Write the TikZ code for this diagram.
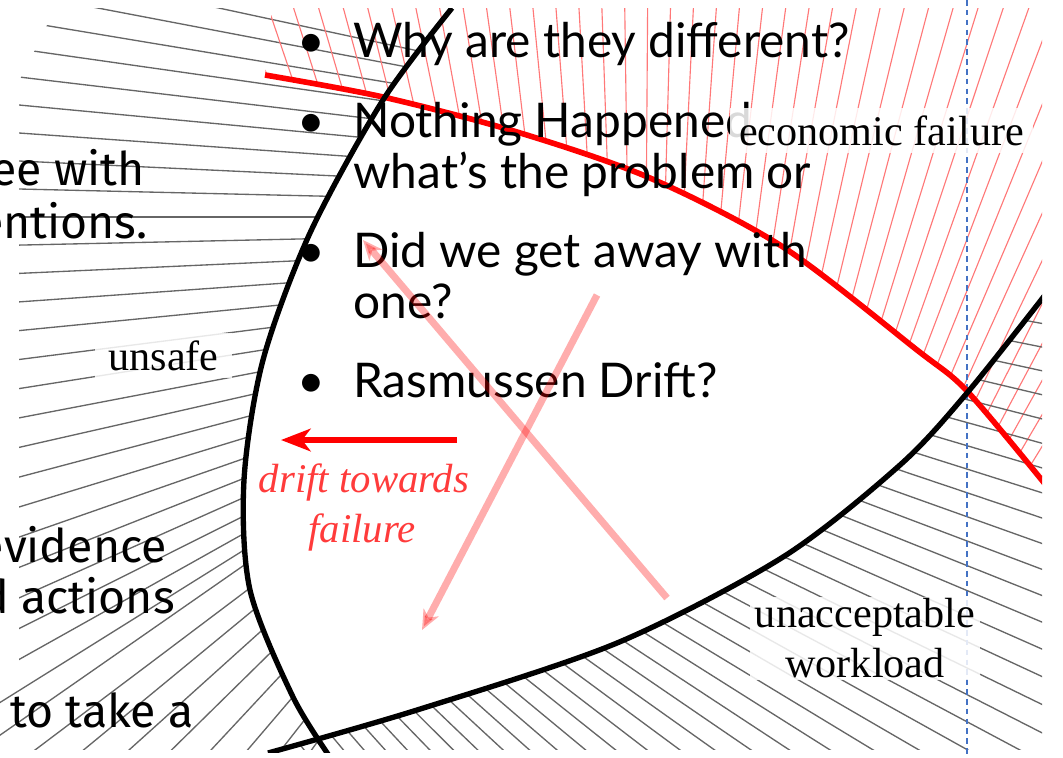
\documentclass[tikz,border=0pt]{standalone}
\usepackage{fontspec}
\setmainfont{Liberation Serif}
\newfontfamily\slidefont{Lato}
\newfontfamily\cropfont{Fira Sans}
\usetikzlibrary{arrows.meta}
\definecolor{HatchGray}{HTML}{666666}
\definecolor{HatchRed}{HTML}{FF7878}
\definecolor{DriftRed}{HTML}{FF3B3B}
\definecolor{GuideBlue}{HTML}{4472C4}

% boundary curves (pixel units, y down)
\def\unsafeedge{-- plot[smooth] coordinates {(452,8) (383,100) (310,233) (263,360) (244,480) (250,590) (293,697) (332,760)}}
\def\workedge{-- plot[smooth] coordinates {(268,753) (417,710) (617,643) (783,557) (900,465) (967,393) (1045,295)}}
\def\econedge{-- plot[smooth] coordinates {(265,75) (383,97) (517,132) (650,178) (783,247) (917,350) (967,391) (1045,484)}}

\begin{document}
\begin{tikzpicture}[x=0.025cm, y=-0.025cm,
  hatch/.style={HatchGray, line width=0.95pt},
  rhatch/.style={HatchRed, line width=0.8pt},
  bound/.style={line width=3.8pt},
  bul/.style={anchor=base, font=\slidefont\fontsize{34}{40}\selectfont, inner sep=0pt},
  slide/.style={anchor=base west, font=\slidefont\fontsize{34}{40}\selectfont, inner sep=0pt},
  crop/.style={font=\cropfont\fontsize{33}{39}\selectfont, inner sep=0pt},
  lbl/.style={fill=white, fill opacity=0.85, text opacity=1, inner sep=0pt, font=\fontsize{30}{35.6}\selectfont, align=center},
  drift/.style={anchor=base, text=DriftRed, font=\itshape\fontsize{29}{35.6}\selectfont, inner sep=0pt},
  xarr/.style={-{Stealth[length=14pt,width=12pt,inset=4pt]}, red, line width=5pt, opacity=0.32}
]
\useasboundingbox (0,0) rectangle (1063,757);

% hatching
\begin{scope}
  \clip (0,8) rectangle (1042,749);
  % unsafe side
  \begin{scope}
    \clip (0,760) -- (0,690) -- (19,690) -- (19,100) -- (21,77) -- (35,50) -- (48,23) -- (55,8) -- (452,8) \unsafeedge -- cycle;
    \foreach \j in {-9,...,17}{
      \pgfmathsetmacro\yy{217+28*\j+0.1*\j*\j*(\j>0)}
      \pgfmathsetmacro\aa{\j<0 ? -1.35*\j : -1.2*\j-0.05*\j*\j}
      \draw[hatch] ({19-60*cos(\aa)},{\yy-60*sin(\aa)}) -- ({19+740*cos(\aa)},{\yy+740*sin(\aa)});
    }
    \foreach \k in {0,...,8}{
      \pgfmathsetmacro\xx{35+50*\k-1.5*\k*\k}
      \pgfmathsetmacro\aa{-37-2.5*\k}
      \draw[hatch] ({\xx-100*cos(\aa)},{750-100*sin(\aa)}) -- ({\xx+600*cos(\aa)},{750+600*sin(\aa)});
    }
  \end{scope}
  % economic side
  \begin{scope}
    \clip (272,8) -- (265,75) \econedge -- (1045,8) -- cycle;
    \foreach \n in {0,...,47}{
      \pgfmathsetmacro\aa{-110+1.2*\n}
      \draw[rhatch] (640,1100) -- ({640+1300*cos(\aa)},{1100+1300*sin(\aa)});
    }
  \end{scope}
  % workload side
  \begin{scope}
    \clip (268,753) \workedge -- (1045,760) -- cycle;
    \foreach \n in {0,...,49}{
      \pgfmathsetmacro\aa{6+1.05*\n}
      \draw[hatch] (-200,100) -- ({-200+1700*cos(\aa)},{100+1700*sin(\aa)});
    }
  \end{scope}
\end{scope}

% guide line
\coordinate (gtop) at (967,0);
\coordinate (gbot) at (967,757);
\draw[GuideBlue, line width=1.1pt, dash pattern=on 4pt off 3pt] (gtop) -- (gbot);

% boundaries
\begin{scope}
  \clip (0,8) rectangle (1042,752);
  \draw[red, line width=4pt] (265,75) \econedge;
  \draw[bound] (452,8) \unsafeedge;
  \draw[bound] (268,753) \workedge;
\end{scope}

% cropped slide text on the left
\node[crop, anchor=base east] (t1) at (145,185) {ee with};
\node[crop, anchor=base east] (t2) at (148,238) {entions.};
\node[crop, anchor=base east] (t3) at (167,562) {evidence};
\node[crop, anchor=base east] (t4) at (175,613) {d actions};
\node[crop, anchor=base west] (t5) at (10,727) {to take a};

% bullets
\node[bul] (b1) at (311,57) {\textbullet};
\node[slide] (l1) at (353,57) {Why are they different?};
\node[bul] (b2) at (311,137) {\textbullet};
\node[slide] (l2) at (353,137) {Nothing Happened};
\node[slide] (l2b) at (353,188) {what’s the problem or};
\node[bul] (b3) at (311,267) {\textbullet};
\node[slide] (l3) at (353,267) {Did we get away with};
\node[slide] (l3b) at (353,318) {one?};
\node[bul] (b4) at (311,397) {\textbullet};
\node[slide] (l4) at (353,397) {Rasmussen Drift?};

% region labels
\node[lbl, minimum width=97pt, minimum height=32pt] (unsafe) at (163.5,355.5) {unsafe};
\node[lbl, minimum width=215pt, minimum height=32pt] (econ) at (881.5,130.5) {economic failure};
\node[lbl, minimum width=164pt, minimum height=59pt] (work) at (865,638.5) {unacceptable\\workload};

% drift
\coordinate (dstart) at (457,440);
\coordinate (dend) at (281,440);
\draw[-{Stealth[length=21pt,width=16pt,inset=6pt]}, red, line width=4.3pt] (dstart) -- (dend);
\node[drift] (d1) at (364,492) {drift towards};
\node[drift] (d2) at (362,542) {failure};

% crossing arrows
\coordinate (xa1) at (667,598);
\coordinate (xa2) at (363,240);
\coordinate (xb1) at (597,295);
\coordinate (xb2) at (422,630);
\draw[xarr] (xa1) -- (xa2);
\draw[xarr] (xb1) -- (xb2);
\end{tikzpicture}
\end{document}
